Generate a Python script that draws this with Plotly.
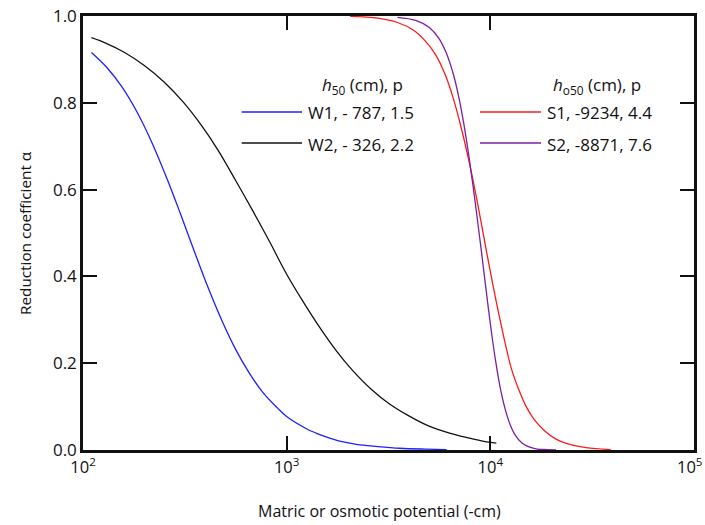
import plotly.graph_objects as go

# ---- data ----
w1_h = [110, 130, 155, 185, 220, 260, 300, 350, 410, 480, 560, 650, 760, 900, 1000, 1250, 1500, 1800, 2200, 2800, 3600, 4800, 6100]
w1_alpha = [0.916, 0.883, 0.837, 0.777, 0.704, 0.622, 0.546, 0.461, 0.376, 0.299, 0.233, 0.180, 0.134, 0.097, 0.077, 0.049, 0.033, 0.021, 0.013, 0.008, 0.004, 0.002, 0.001]

w2_h = [110, 130, 160, 200, 250, 310, 380, 460, 560, 680, 820, 1000, 1200, 1450, 1750, 2100, 2600, 3200, 4000, 5000, 6300, 7800, 9300, 10700]
w2_alpha = [0.950, 0.937, 0.916, 0.886, 0.848, 0.802, 0.749, 0.691, 0.622, 0.552, 0.482, 0.405, 0.343, 0.283, 0.229, 0.184, 0.140, 0.106, 0.078, 0.055, 0.039, 0.028, 0.020, 0.016]

s1_h = [2050, 2800, 3500, 4200, 4800, 5400, 6000, 6600, 7200, 7800, 8400, 9000, 9600, 10300, 11000, 11800, 12700, 13800, 15000, 16500, 18500, 21000, 24000, 28000, 33000, 39000]
s1_alpha = [0.999, 0.995, 0.985, 0.967, 0.942, 0.91, 0.865, 0.808, 0.742, 0.672, 0.600, 0.526, 0.455, 0.380, 0.314, 0.248, 0.187, 0.139, 0.100, 0.069, 0.044, 0.025, 0.014, 0.007, 0.003, 0.001]

s2_h = [3500, 4300, 5000, 5600, 6100, 6600, 7000, 7400, 7800, 8200, 8600, 9000, 9400, 9800, 10200, 10700, 11200, 11800, 12500, 13300, 14300, 15500, 17000, 19000, 21000]
s2_alpha = [0.997, 0.990, 0.974, 0.948, 0.913, 0.864, 0.813, 0.753, 0.685, 0.613, 0.538, 0.465, 0.392, 0.323, 0.261, 0.195, 0.142, 0.096, 0.059, 0.033, 0.016, 0.007, 0.002, 0.001, 0.0]

x_tickvals = [100, 1000, 10000, 100000]
x_ticktext = ["10<sup>2</sup>", "10<sup>3</sup>", "10<sup>4</sup>", "10<sup>5</sup>&nbsp;&nbsp;"]
y_tickvals = [0.0, 0.2, 0.4, 0.6, 0.8, 1.0]

series = [
    ("W1, - 787, 1.5", w1_h, w1_alpha, "#1f1fff"),
    ("W2, - 326, 2.2", w2_h, w2_alpha, "#111111"),
    ("S1, -9234, 4.4", s1_h, s1_alpha, "#ff1a1a"),
    ("S2, -8871, 7.6", s2_h, s2_alpha, "#7b1fa2"),
]

FONT = "Open Sans"

fig = go.Figure()
for name, xs, ys, col in series:
    fig.add_trace(go.Scatter(x=xs, y=ys, mode="lines", name=name,
                             line=dict(color=col, width=1.3, shape="spline", smoothing=1.0),
                             showlegend=False))

W, H = 705, 525
ml, mr, mt, mb = 83, 11, 16, 75
pw, ph = W - ml - mr, H - mt - mb

def px(x):
    return (x - ml) / pw

def py(y):
    return (H - mb - y) / ph

axis_common = dict(ticks="inside", ticklen=14, tickwidth=2, tickcolor="#111",
                   showline=True, linecolor="#111", linewidth=2.5, mirror="ticks",
                   showgrid=False, zeroline=False, automargin=False,
                   ticklabeloverflow="allow")

fig.update_layout(
    width=W, height=H,
    margin=dict(l=ml, r=mr, t=mt, b=mb, autoexpand=False),
    plot_bgcolor="white", paper_bgcolor="white",
    font=dict(family=FONT, size=17, color="#111"),
    xaxis=dict(type="log", range=[2, 5], tickvals=x_tickvals, ticktext=x_ticktext,
               tickfont=dict(size=16.5), **axis_common),
    yaxis=dict(range=[0, 1], tickvals=y_tickvals, tickformat=".1f",
               tickfont=dict(size=17), **axis_common),
)

ann = []
ann.append(dict(text="Matric or osmotic potential (-cm)", x=px(379), y=py(511),
                xanchor="center", yanchor="middle", font=dict(size=16)))
ann.append(dict(text="Reduction coefficient \u03b1", x=px(25), y=py(233), textangle=-90,
                xanchor="center", yanchor="middle", font=dict(size=15.3)))
ann.append(dict(text="<i>h</i><sub>50</sub> (cm), p", x=px(405), y=py(85),
                xanchor="right", yanchor="middle"))
ann.append(dict(text="<i>h</i><sub>o50</sub> (cm), p", x=px(643), y=py(85),
                xanchor="right", yanchor="middle"))
legend_pos = [(241.7, 302, 306, 112), (241.7, 302, 306, 143),
              (480, 541, 545, 112), (480, 541, 545, 143)]
shapes = []
for (name, xs, ys, col), (x0, x1, xt, yy) in zip(series, legend_pos):
    ann.append(dict(text=name, x=px(xt), y=py(yy + 1), xanchor="left", yanchor="middle"))
    shapes.append(dict(type="line", xref="paper", yref="paper", x0=px(x0), x1=px(x1),
                       y0=py(yy), y1=py(yy), line=dict(color=col, width=1.3)))
for a in ann:
    a.update(xref="paper", yref="paper", showarrow=False)
fig.update_layout(annotations=ann, shapes=shapes)

fig.write_html("out.html")
